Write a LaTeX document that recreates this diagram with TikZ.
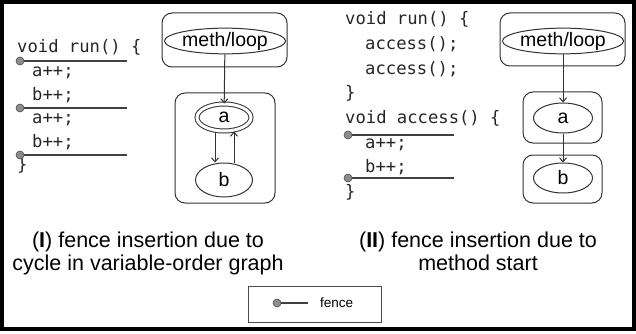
\documentclass[tikz,border=0pt]{standalone}
\usepackage{fontspec}
\setmainfont{Liberation Sans}
\newfontfamily\codefont{DejaVu Sans Mono}
\usetikzlibrary{arrows.meta,shapes.geometric}

\begin{document}
\begin{tikzpicture}[
  x=1pt, y=-1pt,
  code/.style={anchor=base west, inner sep=0pt, text=black!85,
    font=\codefont\fontsize{17.2}{20}\selectfont},
  box/.style={draw=black!80, line width=1pt, rounded corners=10pt, inner sep=0pt},
  ell/.style={ellipse, draw=black!80, line width=1pt, inner sep=0pt,
    font=\fontsize{19.5}{22}\selectfont},
  arr/.style={-{Straight Barb[length=4pt,width=7pt]}, line width=1pt, draw=black!80},
  dot/.style={circle, draw=black!70, fill=black!45, line width=0.6pt,
    minimum size=8pt, inner sep=0pt},
  fenceln/.style={line width=1.3pt, draw=black!75},
  lbl/.style={align=center, anchor=base, font=\fontsize{21.5}{23}\selectfont}
]
\useasboundingbox (0,0) rectangle (636,334);
\draw[line width=3.6pt] (1.8,1.8) rectangle (634.2,329);

% (I) cycle in variable-order graph
\node[code] (lrun) at (17,53) {void run() \{};
\node[code] (la1) at (32,76.5) {a++;};
\node[code] (lb1) at (32,100) {b++;};
\node[code] (la2) at (32,123.5) {a++;};
\node[code] (lb2) at (32,147) {b++;};
\node[code] (lend) at (17,170.5) {\}};

\coordinate (lf1e) at (127,61);
\coordinate (lf2e) at (127,108);
\coordinate (lf3e) at (127,155);
\node[dot] (lf1) at (20,61) {};
\node[dot] (lf2) at (20,108) {};
\node[dot] (lf3) at (20,155) {};
\draw[fenceln] (lf1) -- (lf1e);
\draw[fenceln] (lf2) -- (lf2e);
\draw[fenceln] (lf3) -- (lf3e);

\node[box, minimum width=125pt, minimum height=54pt] (lmbox) at (224.5,40) {};
\node[box, minimum width=100pt, minimum height=110pt] (lvbox) at (225,148) {};
\node[ell, minimum width=108pt, minimum height=24pt] (lmeth) at (225,41) {meth/loop};
\node[ell, double, double distance=3pt, minimum width=54pt, minimum height=27pt] (lva) at (224,117.5) {a};
\node[ell, minimum width=57pt, minimum height=34pt] (lvb) at (224,180) {b};
\draw[arr] (lmeth) -- (lva);
\draw[arr] ([xshift=-9pt]lva.south) -- ([xshift=-9pt]lvb.north);
\draw[arr] ([xshift=10pt]lvb.north) -- ([xshift=10pt]lva.south);

\node[lbl] (lcap) at (148,270) {(\textbf{I}) fence insertion due to\\cycle in variable-order graph};

% (II) method start
\node[code] (rrun) at (345,25) {void run() \{};
\node[code] (rc1) at (365,49.6) {access();};
\node[code] (rc2) at (365,74.2) {access();};
\node[code] (rrend) at (345,98.8) {\}};
\node[code] (racc) at (345,123.4) {void access() \{};
\node[code] (ra) at (365,148) {a++;};
\node[code] (rb) at (365,172.6) {b++;};
\node[code] (raend) at (345,197.2) {\}};

\coordinate (rf1e) at (454,135);
\coordinate (rf2e) at (454,178);
\node[dot] (rf1) at (348,135) {};
\node[dot] (rf2) at (348,178) {};
\draw[fenceln] (rf1) -- (rf1e);
\draw[fenceln] (rf2) -- (rf2e);

\node[box, minimum width=125pt, minimum height=53pt] (rmbox) at (562.5,39.5) {};
\node[box, minimum width=79pt, minimum height=51pt] (rabox) at (562.5,117.5) {};
\node[box, minimum width=79pt, minimum height=48pt] (rbbox) at (562.5,179) {};
\node[ell, minimum width=110pt, minimum height=24pt] (rmeth) at (563,41) {meth/loop};
\node[ell, minimum width=59pt, minimum height=30pt] (rva) at (563,118) {a};
\node[ell, minimum width=59pt, minimum height=30pt] (rvb) at (563,178) {b};
\draw[arr] (rmeth) -- (rva);
\draw[arr] (rva) -- (rvb);

\node[lbl] (rcap) at (478,270) {(\textbf{II}) fence insertion due to\\method start};

% legend
\node[draw=black!70, line width=0.8pt, minimum width=133pt, minimum height=36pt] (legend) at (314.5,304) {};
\coordinate (legle) at (308,303);
\node[dot] (legdot) at (277,303) {};
\draw[fenceln] (legdot) -- (legle);
\node[anchor=west, inner sep=0pt, font=\fontsize{13.5}{16}\selectfont] (legtxt) at (320,303) {fence};
\end{tikzpicture}
\end{document}
